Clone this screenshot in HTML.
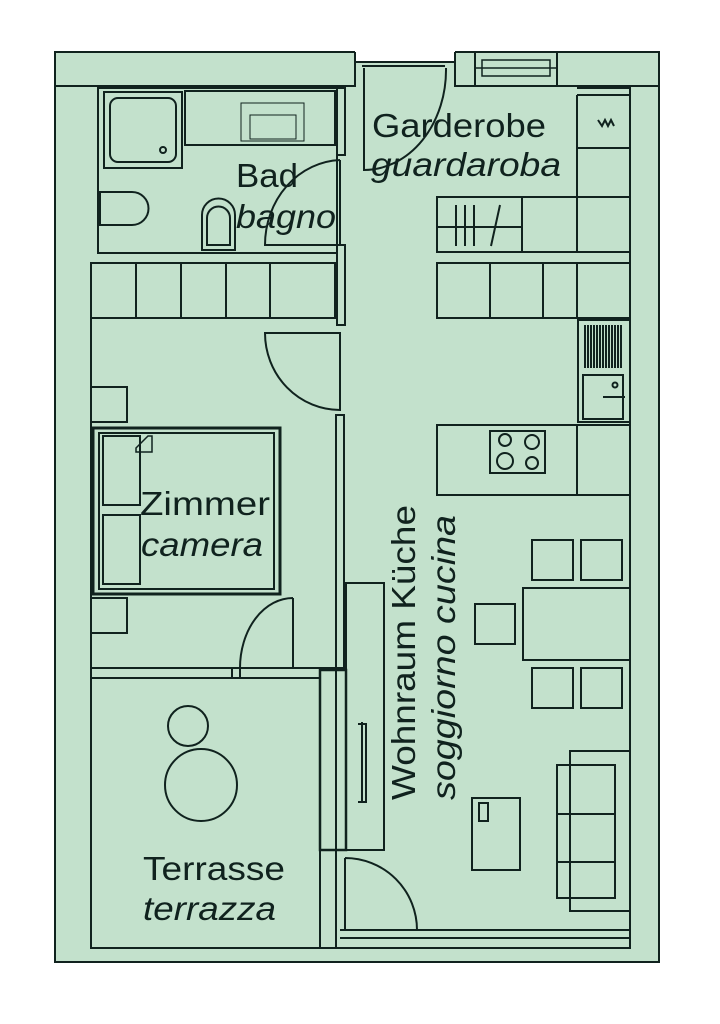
<!DOCTYPE html>
<html><head><meta charset="utf-8"><style>html,body{margin:0;padding:0;background:#fff}svg{display:block}</style></head>
<body>
<svg width="720" height="1024" viewBox="0 0 720 1024" xmlns="http://www.w3.org/2000/svg">
<g fill="none" stroke="#10221e" stroke-width="2">
<rect x="55" y="52" width="604" height="910" fill="#c3e1cc"/>
<rect x="355" y="50" width="100" height="12" fill="#fff" stroke="none"/>
<path d="M355 52V86H55M455 52V86H475M557 86H659M355 62H455"/>
<rect x="475" y="52" width="82" height="34" fill="#c3e1cc"/>
<path d="M482 60H550V76H482Z M475 68H557" stroke-width="1.5"/>
<path d="M362 66H445"/>
<path d="M630 86V948H91V262"/>
<rect x="98" y="88" width="239" height="165"/>
<rect x="104" y="92" width="78" height="76"/>
<rect x="110" y="98" width="66" height="64" rx="8"/>
<circle cx="163" cy="150" r="3"/>
<rect x="185" y="91" width="150" height="54"/>
<rect x="241" y="103" width="63" height="38" stroke-width="1"/>
<rect x="250" y="115" width="46" height="24" stroke-width="1"/>
<path d="M100 192H132A16 16 0 0 1 132 225H100Z"/>
<path d="M202 250V215A16 16 0 0 1 235 215V250Z"/>
<path d="M207 245V218A11 11 0 0 1 230 218V245Z"/>
<rect x="337" y="88" width="8" height="67" fill="#c3e1cc"/>
<rect x="337" y="245" width="8" height="80" fill="#c3e1cc"/>
<path d="M340 160A78 85 0 0 0 265 245H340V160"/>
<path d="M364 68V170A82 100 0 0 0 446 68"/>
<path d="M577 88H630M577 95H630M577 95V252M577 148H630M577 197H630"/>
<rect x="437" y="197" width="193" height="55"/>
<path d="M522 197V252M437 227H522M456 205V246M465 205V246M474 205V246M500 205L491 246"/>
<path d="M598 120L602 126L605 120L608 126L611 120L614 126" stroke-width="2"/>
<rect x="437" y="263" width="193" height="55"/>
<path d="M490 263V318M543 263V318M577 263V318"/>
<rect x="91" y="263" width="244" height="55"/>
<path d="M136 263V318M181 263V318M226 263V318M270 263V318"/>
<path d="M340 333H265A75 77 0 0 0 340 410Z"/>
<rect x="336" y="415" width="8" height="253" fill="#c3e1cc"/>
<path d="M91 668H336"/>
<rect x="91" y="387" width="36" height="35"/>
<rect x="91" y="598" width="36" height="35"/>
<rect x="93" y="428" width="187" height="166" stroke-width="3"/>
<rect x="99" y="433" width="175" height="156"/>
<path d="M103 436H140V505H103Z M103 515H140V584H103Z"/>
<path d="M136 448L148 436H152V452H136Z" stroke-width="1.5"/>
<path d="M293 598V668M240 668A53 70 0 0 1 293 598"/>
<path d="M232 668V678M240 668V678"/>
<rect x="91" y="678" width="229" height="270"/>
<circle cx="188" cy="726" r="20"/>
<ellipse cx="201" cy="785" rx="36" ry="36"/>
<rect x="320" y="670" width="26" height="180" fill="#c3e1cc" stroke-width="2.5"/>
<path d="M336 668V948"/>
<rect x="346" y="583" width="38" height="267"/>
<path d="M362 722V803M358 724H366V802H358" stroke-width="2"/>
<path d="M345 858V930H417A72 72 0 0 0 345 858"/>
<path d="M340 930H630M340 938H630"/>
<rect x="578" y="320" width="52" height="102"/>
<path d="M585 325V368M588 325V368M591 325V368M594 325V368M597 325V368M600 325V368M603 325V368M606 325V368M609 325V368M612 325V368M615 325V368M618 325V368M621 325V368" stroke-width="2"/>
<rect x="583" y="375" width="40" height="44"/>
<circle cx="615" cy="385" r="2.5"/>
<path d="M603 397H625"/>
<rect x="437" y="425" width="193" height="70"/>
<path d="M577 425V495"/>
<rect x="490" y="431" width="55" height="42"/>
<circle cx="505" cy="440" r="6"/><circle cx="532" cy="442" r="7"/><circle cx="505" cy="461" r="8"/><circle cx="532" cy="463" r="6"/>
<rect x="532" y="540" width="41" height="40"/><rect x="581" y="540" width="41" height="40"/>
<rect x="523" y="588" width="107" height="72"/>
<rect x="532" y="668" width="41" height="40"/><rect x="581" y="668" width="41" height="40"/>
<rect x="475" y="604" width="40" height="40"/>
<rect x="570" y="751" width="60" height="160"/>
<rect x="557" y="765" width="58" height="133"/>
<path d="M557 814H615M557 862H615"/>
<rect x="472" y="798" width="48" height="72"/>
<rect x="479" y="803" width="9" height="18"/>
</g>
<g fill="#10221e" font-family="'Liberation Sans Narrow','Liberation Sans',sans-serif" font-size="33">
<text x="372" y="137" textLength="174" lengthAdjust="spacingAndGlyphs">Garderobe</text>
<text x="371" y="176" font-style="italic" textLength="190" lengthAdjust="spacingAndGlyphs">guardaroba</text>
<text x="236" y="187" textLength="62" lengthAdjust="spacingAndGlyphs">Bad</text>
<text x="236" y="228" font-style="italic" textLength="100" lengthAdjust="spacingAndGlyphs">bagno</text>
<text x="140" y="515" textLength="130" lengthAdjust="spacingAndGlyphs">Zimmer</text>
<text x="141" y="556" font-style="italic" textLength="122" lengthAdjust="spacingAndGlyphs">camera</text>
<text x="143" y="880" textLength="142" lengthAdjust="spacingAndGlyphs">Terrasse</text>
<text x="143" y="920" font-style="italic" textLength="133" lengthAdjust="spacingAndGlyphs">terrazza</text>
<text transform="translate(415,800) rotate(-90)" textLength="295" lengthAdjust="spacingAndGlyphs">Wohnraum Küche</text>
<text transform="translate(455,800) rotate(-90)" font-style="italic" textLength="285" lengthAdjust="spacingAndGlyphs">soggiorno cucina</text>
</g>
</svg>
</body></html>
